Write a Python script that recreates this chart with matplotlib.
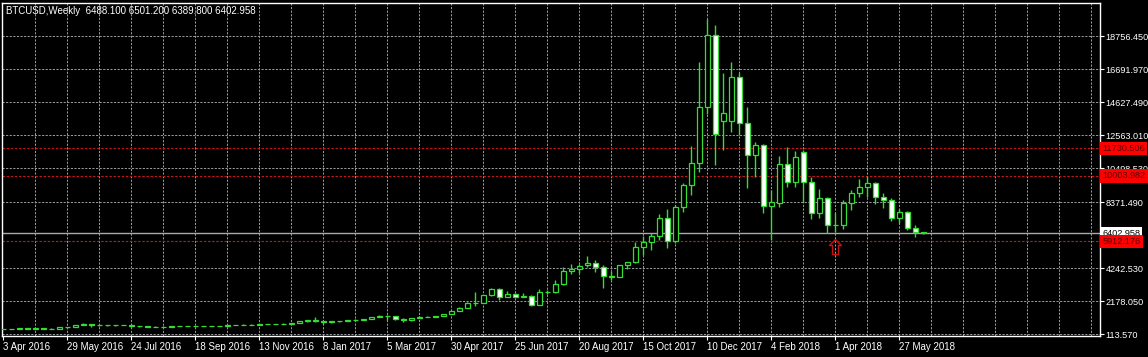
import matplotlib
matplotlib.use("Agg")
import matplotlib.pyplot as plt
import matplotlib.transforms as mtransforms
from matplotlib.path import Path
import numpy as np
import pandas as pd

plt.rcParams["font.family"] = ["Liberation Sans", "DejaVu Sans"]

# weekly BTCUSD bars (week of 3 Apr 2016 .. 17 Jun 2018)
weeks = pd.date_range("2016-04-03", periods=116, freq="7D")
opens = [418, 421, 427, 460, 449, 458, 456, 443, 528, 575,
         668, 762, 660, 675, 650, 665, 655, 590, 588, 570,
         580, 572, 605, 608, 607, 600, 610, 615, 640, 652,
         700, 705, 702, 735, 738, 765, 770, 790, 925, 975,
         900, 880, 920, 915, 1005, 1000, 1045, 1185, 1270, 1235,
         1030, 975, 1120, 1200, 1180, 1235, 1345, 1560, 1770, 2050,
         2070, 2550, 2920, 2450, 2600, 2450, 2500, 1930, 2750, 2740,
         3250, 4055, 4180, 4400, 4560, 4320, 3740, 3690, 4400, 4610,
         5560, 5880, 6240, 7370, 5930, 8060, 9430, 10810, 14310, 18820,
         13440, 13440, 16190, 13310, 11310, 11940, 8120, 8310, 10750, 9620,
         11500, 9620, 7680, 8620, 6930, 6960, 8310, 8930, 9310, 9560,
         8680, 8500, 7370, 7750, 6750, 6488.1]
highs = [426, 430, 462, 468, 463, 463, 458, 530, 580, 670,
         780, 770, 690, 705, 680, 680, 665, 600, 600, 585,
         590, 610, 630, 612, 612, 610, 618, 642, 655, 705,
         740, 720, 755, 750, 770, 775, 790, 935, 1005, 1150,
         920, 925, 930, 1010, 1060, 1050, 1200, 1290, 1330, 1250,
         1110, 1130, 1220, 1215, 1240, 1350, 1580, 1810, 2100, 2760,
         2560, 2980, 2990, 2820, 2650, 2650, 2560, 2900, 2850, 3480,
         4320, 4480, 4470, 4980, 4720, 4430, 4050, 4450, 4640, 5860,
         6240, 6430, 7620, 7930, 8180, 9560, 11870, 17130, 19820, 19440,
         16440, 17130, 16440, 14310, 12130, 12000, 9120, 11250, 11810, 11580,
         11620, 9940, 9190, 8700, 7680, 8500, 9120, 9810, 10000, 9620,
         8930, 8620, 7930, 7810, 6930, 6501.2]
lows = [414, 418, 425, 443, 440, 448, 438, 440, 520, 570,
        660, 550, 620, 630, 640, 650, 540, 565, 570, 565,
        570, 570, 600, 600, 595, 595, 605, 612, 630, 650,
        690, 690, 685, 720, 730, 750, 765, 785, 890, 850,
        760, 820, 890, 910, 950, 995, 1040, 1160, 990, 1020,
        890, 950, 1110, 1160, 1175, 1230, 1340, 1550, 1740, 1850,
        2050, 2500, 2240, 2430, 2400, 2420, 1840, 1900, 2600, 2650,
        3200, 3870, 3950, 4300, 4000, 2990, 3500, 3650, 4200, 4550,
        5060, 5370, 6000, 5500, 5800, 7750, 8810, 10250, 13900, 10690,
        11620, 12750, 12560, 9250, 9940, 7700, 5990, 8060, 9310, 9330,
        8370, 7310, 7370, 6430, 6500, 6680, 7870, 8680, 8680, 8250,
        8000, 7180, 7060, 6620, 6180, 6389.8]
closes = [421, 427, 460, 449, 458, 456, 443, 528, 575, 668,
          762, 660, 675, 650, 665, 655, 590, 588, 570, 580,
          572, 605, 608, 607, 600, 610, 615, 640, 652, 700,
          705, 702, 735, 738, 765, 770, 790, 925, 975, 900,
          880, 920, 915, 1005, 1000, 1045, 1185, 1270, 1235, 1030,
          975, 1120, 1200, 1180, 1235, 1345, 1560, 1770, 2050, 2070,
          2550, 2920, 2450, 2600, 2450, 2500, 1930, 2750, 2740, 3250,
          4055, 4180, 4380, 4560, 4320, 3740, 3690, 4400, 4610, 5560,
          5880, 6240, 7370, 5930, 8060, 9430, 10810, 14310, 18820, 12630,
          13940, 16190, 13310, 11310, 11940, 8120, 8370, 10750, 9620, 11190,
          9620, 7680, 8620, 6930, 6960, 8310, 8930, 9310, 9560, 8680,
          8500, 7370, 7750, 6750, 6490, 6402.958]

price_ticks = [18756.45, 16691.97, 14627.49, 12563.01, 10498.53,
               8371.49, 4242.53, 2178.05, 113.57]
levels = [11730.506, 10003.982, 5912.176]
signal_week = 104

green = "#33dd33"
grid_col = "#9a9ea3"
red_line = "#c41818"
dash = (0, (2.2, 1.5))

fig = plt.figure(figsize=(11.48, 3.57), dpi=100, facecolor="black")
ax = fig.add_axes([2 / 1148, 21 / 357, 1098 / 1148, 333 / 357], facecolor="black")

x = np.arange(len(opens))
o = np.array(opens)
h = np.array(highs)
l = np.array(lows)
c = np.array(closes)
up = c >= o

# grid
for xv in np.arange(4, 137, 4):
    ax.axvline(xv, color=grid_col, lw=0.7, ls=dash, zorder=1)
for yv in price_ticks:
    ax.axhline(yv, color=grid_col, lw=0.7, ls=dash, zorder=1)

# levels + current price
for lv in levels:
    ax.axhline(lv, color=red_line, lw=0.8, ls=dash, zorder=2)
ax.axhline(c[-1], color="#a9a9a9", lw=1.0, zorder=2)

# candles
ax.vlines(x, l, h, color=green, lw=1.0, zorder=3)
ax.bar(x, np.abs(c - o), bottom=np.minimum(o, c), width=0.62,
       color=np.where(up, "black", "white"), edgecolor=green,
       linewidth=0.9, zorder=4)

# buy arrow under the signal bar
arrow = Path([(0, -7), (-6, -13), (-3, -13), (-3, -22), (3, -22),
              (3, -13), (6, -13), (0, -7)], closed=True)
ax.plot(signal_week, lows[signal_week], marker=arrow, ms=31.7, mfc="none",
        mec="#c81010", mew=1.0, ls="none", zorder=5)

ax.set_xlim(-0.15, 137.1)
ax.set_ylim(-11.5, 20821)

for sp in ax.spines.values():
    sp.set_color("white")
    sp.set_linewidth(1.0)

ax.yaxis.tick_right()
ax.set_yticks(price_ticks, [f"{v:.3f}" for v in price_ticks])
ax.tick_params(axis="y", colors="white", labelsize=6.6, length=3, width=0.8, pad=1.2)

xt = np.arange(0, len(weeks), 8)
ax.set_xticks(xt, [f"{weeks[i].day} {weeks[i]:%b %Y}" for i in xt])
for lbl in ax.get_xticklabels():
    lbl.set_ha("left")
ax.tick_params(axis="x", colors="white", labelsize=7, length=3, width=0.8, pad=1.5)

ax.text(0.004, 0.99, f"BTCUSD,Weekly  {opens[-1]:.3f} {highs[-1]:.3f} {lows[-1]:.3f} {closes[-1]:.3f}",
        transform=ax.transAxes, color="white", fontsize=7, va="top", ha="left")

trans = mtransforms.blended_transform_factory(ax.transAxes, ax.transData)
ax.text(1.002, c[-1], f"{closes[-1]:.3f}", transform=trans, color="black",
        fontsize=6.6, va="center", ha="left", clip_on=False, zorder=6,
        bbox=dict(boxstyle="square,pad=0.25", fc="white", ec="none"))
for lv in levels:
    ax.text(1.002, lv, f"{lv:.3f}", transform=trans, color="#5a0000",
            fontsize=6.6, va="center", ha="left", clip_on=False, zorder=7,
            bbox=dict(boxstyle="square,pad=0.25", fc="#ff0000", ec="none"))

fig.savefig("out.png", dpi=100, facecolor="black")
